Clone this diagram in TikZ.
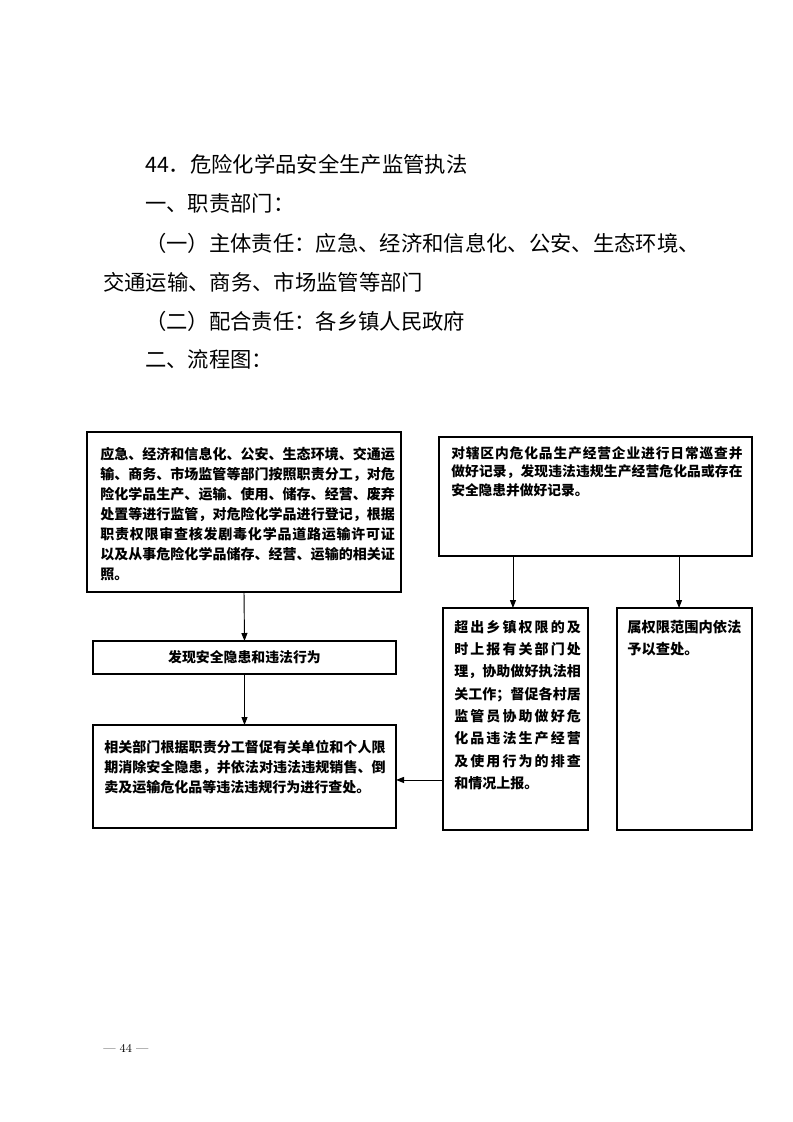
\documentclass[tikz,border=0pt]{standalone}
\usepackage{fontspec}
\newfontfamily\cjk{Noto Sans CJK SC}
\usetikzlibrary{arrows.meta}
\XeTeXlinebreaklocale "zh"
\XeTeXlinebreakskip=0pt plus 3pt
\tikzset{
  head/.style={anchor=base west, inner sep=0pt, font=\cjk\fontsize{16}{16}\selectfont},
  flowbox/.style={draw, line width=0.8pt, inner sep=0pt, outer sep=0pt},
  boxtext/.style={anchor=north west, inner sep=0pt, align=justify},
  arr/.style={line width=0.7pt, -{Triangle[length=6pt,width=4.5pt]}},
}
\begin{document}
\begin{tikzpicture}[x=0.75pt, y=-0.75pt]
\useasboundingbox (0,0) rectangle (793,1122);
% headings
\node[head] (h1) at (145,172) {44．危险化学品安全生产监管执法};
\node[head] (h2) at (145,211) {一、职责部门：};
\node[head] (h3) at (145,251) {（一）主体责任：应急、经济和信息化、公安、生态环境、};
\node[head] (h4) at (103,290) {交通运输、商务、市场监管等部门};
\node[head] (h5) at (145,329) {（二）配合责任：各乡镇人民政府};
\node[head] (h6) at (145,367) {二、流程图：};
% boxes
\node[flowbox, minimum width=235.5pt, minimum height=120pt] (A) at (244,512) {};
\node[flowbox, minimum width=234.75pt, minimum height=89.25pt] (B) at (595.5,496.5) {};
\node[flowbox, minimum width=227.25pt, minimum height=24.75pt] (C) at (244.5,657.5) {};
\node[flowbox, minimum width=227.25pt, minimum height=77.25pt] (D) at (244.5,776.5) {};
\node[flowbox, minimum width=108.75pt, minimum height=166.5pt] (E) at (515.5,719) {};
\node[flowbox, minimum width=101.25pt, minimum height=166.5pt] (F) at (684.5,719) {};
% texts
\node[boxtext, text width=221pt, font=\cjk\bfseries\fontsize{10.5}{15}\selectfont] (tA) at (100,447) {应急、经济和信息化、公安、生态环境、交通运\linebreak 输、商务、市场监管等部门按照职责分工，对危\linebreak 险化学品生产、运输、使用、储存、经营、废弃\linebreak 处置等进行监管，对危险化学品进行登记，根据\linebreak 职责权限审查核发剧毒化学品道路运输许可证\linebreak 以及从事危险化学品储存、经营、运输的相关证\linebreak 照。};
\node[boxtext, text width=218.5pt, font=\cjk\bfseries\fontsize{10.3}{13.9}\selectfont] (tB) at (451,446) {对辖区内危化品生产经营企业进行日常巡查并\linebreak 做好记录，发现违法违规生产经营危化品或存在\linebreak 安全隐患并做好记录。};
\node[inner sep=0pt, font=\cjk\bfseries\fontsize{10.4}{12}\selectfont] (tC) at (C.center) {发现安全隐患和违法行为};
\node[boxtext, text width=211pt, font=\cjk\bfseries\fontsize{10.5}{15}\selectfont] (tD) at (104,740) {相关部门根据职责分工督促有关单位和个人限\linebreak 期消除安全隐患，并依法对违法违规销售、倒\linebreak 卖及运输危化品等违法违规行为进行查处。};
\node[boxtext, text width=95pt, font=\cjk\bfseries\fontsize{10.5}{16.7}\selectfont] (tE) at (454,620) {超出乡镇权限的及\linebreak 时上报有关部门处\linebreak 理，协助做好执法相\linebreak 关工作；督促各村居\linebreak 监管员协助做好危\linebreak 化品违法生产经营\linebreak 及使用行为的排查\linebreak 和情况上报。};
\node[anchor=north west, inner sep=0pt, align=left, font=\cjk\bfseries\fontsize{10.7}{16.5}\selectfont] (tF) at (627,620) {属权限范围内依法\\予以查处。};
% connectors
\coordinate (eOut) at ([xshift=-1.9pt]E.north);
\coordinate (fIn) at ([xshift=-4.1pt]F.north);
\coordinate (dIn) at ([yshift=-2.6pt]D.east);
\draw[arr] (A.south) -- (C.north);
\draw[arr] (C.south) -- (D.north);
\draw[arr] (eOut |- B.south) -- (eOut);
\draw[arr] (fIn |- B.south) -- (fIn);
\draw[arr] (E.west |- dIn) -- (dIn);
% page number
\node[anchor=west, inner sep=0pt, font=\fontsize{9}{9}\selectfont] (pg) at (103,1048) {— 44 —};
\end{tikzpicture}
\end{document}
